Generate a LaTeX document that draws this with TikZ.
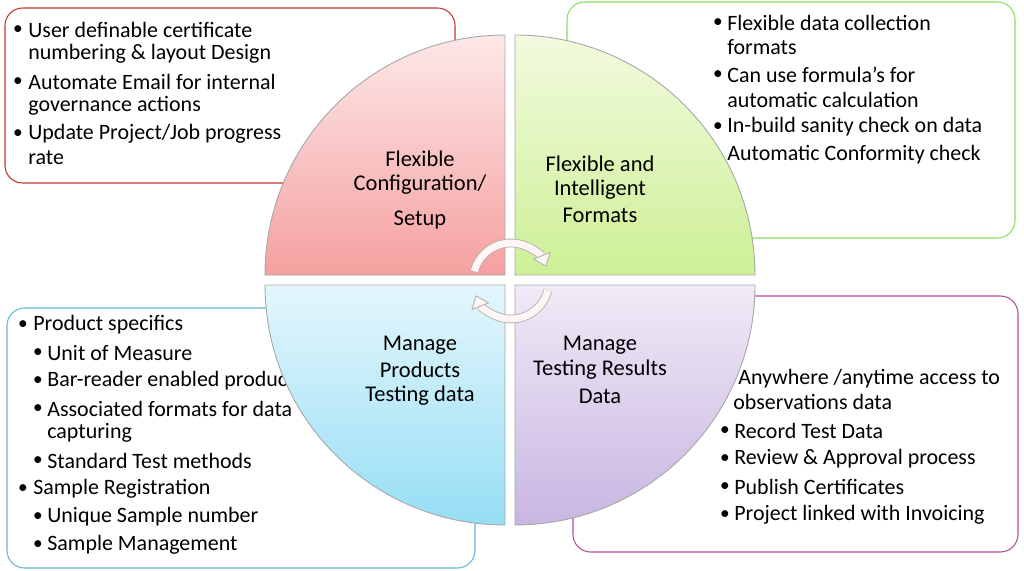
\documentclass[tikz,border=0pt]{standalone}
\usepackage{fontspec}
\setmainfont{Carlito}
\usetikzlibrary{arrows.meta}
\definecolor{redlow}{RGB}{245,160,160}
\definecolor{redtop}{RGB}{253,232,232}
\definecolor{greenlow}{RGB}{205,240,150}
\definecolor{greentop}{RGB}{242,250,222}
\definecolor{cyanlow}{RGB}{150,222,245}
\definecolor{cyantop}{RGB}{228,246,252}
\definecolor{violetlow}{RGB}{200,182,226}
\definecolor{violettop}{RGB}{240,234,246}
\tikzset{
  line/.style={anchor=west,font=\fontsize{12.5pt}{14pt}\selectfont,inner sep=0pt},
  dot/.style={anchor=center,font=\fontsize{11pt}{14pt}\selectfont,inner sep=0pt},
  title/.style={font=\fontsize{12.8pt}{15pt}\selectfont,inner sep=0pt},
  panel/.style={draw=#1,rounded corners=10pt,line width=0.6pt,fill=white},
  quarter/.style={draw=gray!70,line width=0.5pt},
  turn/.style={draw=gray!60,double=pink!15,double distance=4pt,line width=0.5pt,-{Triangle[length=7pt,width=11pt,fill=pink!15]}}
}
\begin{document}
\begin{tikzpicture}[x=0.02cm,y=-0.02cm]
\useasboundingbox (0,0) rectangle (1024,571);

% boxes behind the circle
\draw[panel=red!70!black!80] (5,8) rectangle (455,183);
\draw[panel=green!60!olive!60] (567,2) rectangle (1015,238);
\draw[panel=cyan!60!teal!70] (7,308) rectangle (475,568);
\draw[panel=violet!60!purple!70] (573,296) rectangle (1018,552);

% top left text
\node[dot] (b1) at (18,30) {•};
\node[line] (t1) at (28,30) {User definable certificate};
\node[line] (t2) at (28,54) {numbering \& layout Design};
\node[dot] (b2) at (18,82) {•};
\node[line] (t3) at (28,82) {Automate Email for internal};
\node[line] (t4) at (28,106) {governance actions};
\node[dot] (b3) at (18,134) {•};
\node[line] (t5) at (28,134) {Update Project/Job progress};
\node[line] (t6) at (28,158) {rate};

% top right text
\node[dot] (c1) at (718,23) {•};
\node[line] (u1) at (727,23) {Flexible data collection};
\node[line] (u2) at (727,47) {formats};
\node[dot] (c2) at (718,75) {•};
\node[line] (u3) at (727,75) {Can use formula’s for};
\node[line] (u4) at (727,100) {automatic calculation};
\node[dot] (c3) at (718,127) {•};
\node[line] (u5) at (727,127) {In-build sanity check on data};
\node[line] (u6) at (727,155) {Automatic Conformity check};

% bottom left text
\node[dot] (d1) at (23,325) {•};
\node[line] (v1) at (33,325) {Product specifics};
\node[dot] (d2) at (38,353) {•};
\node[line] (v2) at (47,353) {Unit of Measure};
\node[dot] (d3) at (38,381) {•};
\node[line] (v3) at (47,381) {Bar-reader enabled products};
\node[dot] (d4) at (38,409) {•};
\node[line] (v4) at (47,409) {Associated formats for data};
\node[line] (v5) at (47,433) {capturing};
\node[dot] (d5) at (38,461) {•};
\node[line] (v6) at (47,461) {Standard Test methods};
\node[dot] (d6) at (23,489) {•};
\node[line] (v7) at (33,489) {Sample Registration};
\node[dot] (d7) at (38,517) {•};
\node[line] (v8) at (47,517) {Unique Sample number};
\node[dot] (d8) at (38,545) {•};
\node[line] (v9) at (47,545) {Sample Management};

% bottom right text
\node[dot] (e0) at (728,379) {•};
\node[line] (w1) at (738,379) {Anywhere /anytime access to};
\node[line] (w2) at (733,402) {observations data};
\node[dot] (e1) at (725,431) {•};
\node[line] (w3) at (734,431) {Record Test Data};
\node[dot] (e2) at (725,459) {•};
\node[line] (w4) at (734,459) {Review \& Approval process};
\node[dot] (e3) at (725,487) {•};
\node[line] (w5) at (734,487) {Publish Certificates};
\node[dot] (e4) at (725,515) {•};
\node[line] (w6) at (734,515) {Project linked with Invoicing};

% four quarters
\draw[quarter,top color=redtop,bottom color=redlow] (505,275) -- (265,275) arc[start angle=180,end angle=90,radius=4.8cm] -- cycle;
\draw[quarter,top color=greentop,bottom color=greenlow] (515,275) -- (515,35) arc[start angle=90,end angle=0,radius=4.8cm] -- cycle;
\draw[quarter,top color=cyantop,bottom color=cyanlow] (505,285) -- (505,525) arc[start angle=270,end angle=180,radius=4.8cm] -- cycle;
\draw[quarter,top color=violettop,bottom color=violetlow] (515,285) -- (755,285) arc[start angle=0,end angle=-90,radius=4.8cm] -- cycle;

% quarter titles
\node[title] (q1a) at (420,159) {Flexible};
\node[title] (q1b) at (420,185) {Configuration/};
\node[title] (q1c) at (420,220) {Setup};
\node[title] (q2a) at (600,164) {Flexible and};
\node[title] (q2b) at (600,190) {Intelligent};
\node[title] (q2c) at (600,215) {Formats};
\node[title] (q3a) at (420,345) {Manage};
\node[title] (q3b) at (420,370) {Products};
\node[title] (q3c) at (420,396) {Testing data};
\node[title] (q4a) at (600,345) {Manage};
\node[title] (q4b) at (600,370) {Testing Results};
\node[title] (q4c) at (600,396) {Data};

% turning arrows
\coordinate (o) at (511,281);
\draw[turn] ([shift={(165:0.76cm)}]o) arc[start angle=165,end angle=22,radius=0.76cm];
\draw[turn] ([shift={(-15:0.76cm)}]o) arc[start angle=-15,end angle=-158,radius=0.76cm];
\end{tikzpicture}
\end{document}
